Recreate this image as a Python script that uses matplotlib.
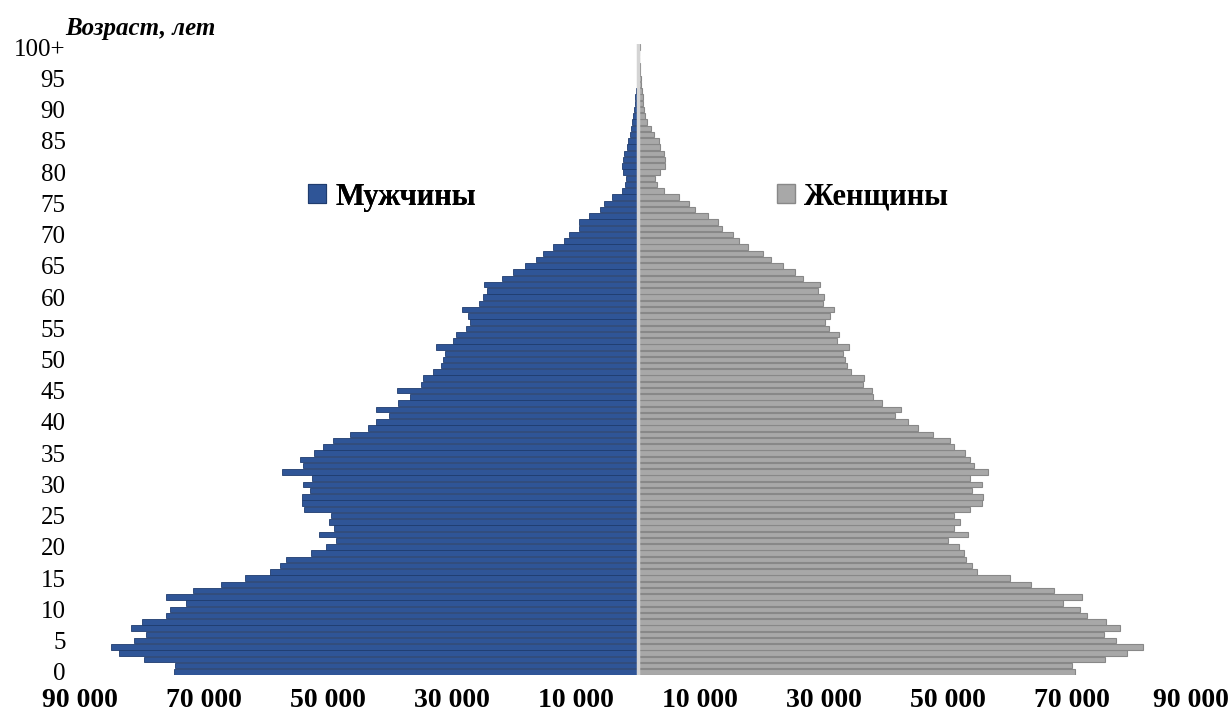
import matplotlib
matplotlib.use("Agg")
import matplotlib.pyplot as plt
from matplotlib.patches import Patch
from matplotlib.transforms import ScaledTranslation

ages = list(range(0, 101))
males = [74.8, 74.6, 79.6, 83.6, 84.9, 81.2, 79.3, 81.7, 79.9, 76.0,
         75.4, 72.8, 76.1, 71.7, 67.2, 63.3, 59.3, 57.7, 56.7, 52.7,
         50.2, 48.6, 51.4, 49.0, 49.8, 49.4, 53.8, 54.1, 54.1, 52.8,
         54.0, 52.5, 57.3, 54.0, 54.4, 52.1, 50.7, 49.1, 46.4, 43.5,
         42.1, 40.1, 42.1, 38.6, 36.7, 38.8, 34.9, 34.6, 33.0, 31.7,
         31.4, 31.0, 32.5, 29.8, 29.3, 27.7, 27.0, 27.3, 28.3, 25.6,
         25.0, 24.3, 24.8, 21.9, 20.1, 18.1, 16.3, 15.2, 13.7, 11.9,
         11.0, 9.4, 9.4, 7.8, 6.0, 5.4, 4.1, 2.5, 2.0, 1.9,
         2.3, 2.5, 2.4, 2.2, 1.7, 1.5, 1.2, 1.05, 0.9, 0.7,
         0.55, 0.45, 0.35, 0.25, 0.15, 0.12, 0.08, 0.05, 0.04, 0.03,
         0.05]
females = [70.5, 70.0, 75.4, 78.9, 81.5, 77.1, 75.2, 77.8, 75.5, 72.5,
           71.4, 68.6, 71.7, 67.2, 63.5, 60.1, 54.8, 54.0, 53.0, 52.7,
           51.9, 50.1, 53.3, 51.0, 52.0, 51.0, 53.7, 55.5, 55.7, 54.0,
           55.5, 53.7, 56.5, 54.2, 53.7, 52.9, 51.1, 50.4, 47.7, 45.2,
           43.7, 41.5, 42.5, 39.4, 38.0, 37.8, 36.4, 36.5, 34.4, 33.8,
           33.4, 33.1, 34.1, 32.2, 32.5, 30.9, 30.2, 31.0, 31.7, 29.9,
           30.0, 29.1, 29.4, 26.7, 25.4, 23.4, 21.6, 20.2, 17.9, 16.3,
           15.4, 13.7, 13.0, 11.3, 9.3, 8.3, 6.7, 4.3, 3.1, 2.8,
           3.7, 4.4, 4.4, 4.3, 3.6, 3.4, 2.7, 2.2, 1.5, 1.2,
           1.05, 0.9, 0.84, 0.73, 0.6, 0.5, 0.4, 0.35, 0.3, 0.25,
           0.4]
males = [v * 1000 for v in males]
females = [v * 1000 for v in females]

xtick_vals = [-90000, -70000, -50000, -30000, -10000, 10000, 30000, 50000, 70000, 90000]
xtick_labels = ["90 000", "70 000", "50 000", "30 000", "10 000",
                "10 000", "30 000", "50 000", "70 000", "90 000"]
ytick_vals = list(range(0, 101, 5))
ytick_labels = [str(v) for v in range(0, 100, 5)] + ["100+"]

male_label = "Мужчины"
female_label = "Женщины"
ylabel_text = "Возраст, лет"

BLUE = "#2F5597"
BLUE_EDGE = "#1F3C6E"
GRAY = "#A8A8A8"
GRAY_EDGE = "#888888"

plt.rcParams["font.family"] = ["Liberation Serif", "DejaVu Serif"]

W, H = 1230, 718
fig = plt.figure(figsize=(W / 100, H / 100), dpi=100)
left_px, right_px = 79.5, 1195.5
top_px, bot_px = 43.9, 675.1
ax = fig.add_axes([left_px / W, 1 - bot_px / H, (right_px - left_px) / W, (bot_px - top_px) / H])

ax.barh(ages, [-v for v in males], height=0.88, color=BLUE, edgecolor=BLUE_EDGE, linewidth=0.6)
ax.barh(ages, females, height=0.88, color=GRAY, edgecolor=GRAY_EDGE, linewidth=0.8)
ax.axvline(0, color="#D4D4D4", lw=2.5, zorder=3)

ax.set_xlim(-90000, 90000)
ax.set_ylim(-0.5, 100.5)
for s in ax.spines.values():
    s.set_visible(False)

ax.set_xticks(xtick_vals)
ax.set_xticklabels(xtick_labels, fontsize=20, fontweight="bold")
ax.set_yticks(ytick_vals)
ax.set_yticklabels(ytick_labels, fontsize=18)
ax.tick_params(axis="both", length=0)
ax.tick_params(axis="y", pad=10)
ax.tick_params(axis="x", pad=9)

# keep the rightmost label inside the image, as in the reference
last = ax.get_xticklabels()[-1]
last.set_horizontalalignment("right")
last.set_transform(last.get_transform() + ScaledTranslation(33 / 100, 0, fig.dpi_scale_trans))

fig.text(65 / W, 1 - 28 / H, ylabel_text, fontsize=18, fontweight="bold", fontstyle="italic",
         ha="left", va="center")

h_m = Patch(facecolor=BLUE, edgecolor=BLUE_EDGE, linewidth=0.8)
h_f = Patch(facecolor=GRAY, edgecolor=GRAY_EDGE, linewidth=1.0)
leg_kw = dict(loc="center left", frameon=False, prop={"size": 22, "weight": "bold"},
              handlelength=0.6, handleheight=0.6, handletextpad=0.3, borderpad=0, borderaxespad=0)
leg1 = fig.legend([h_m], [male_label], bbox_to_anchor=(308 / W, 1 - 197 / H), **leg_kw)
leg2 = fig.legend([h_f], [female_label], bbox_to_anchor=(777 / W, 1 - 197 / H), **leg_kw)
fig.add_artist(leg1)

fig.savefig("out.png", dpi=100)
